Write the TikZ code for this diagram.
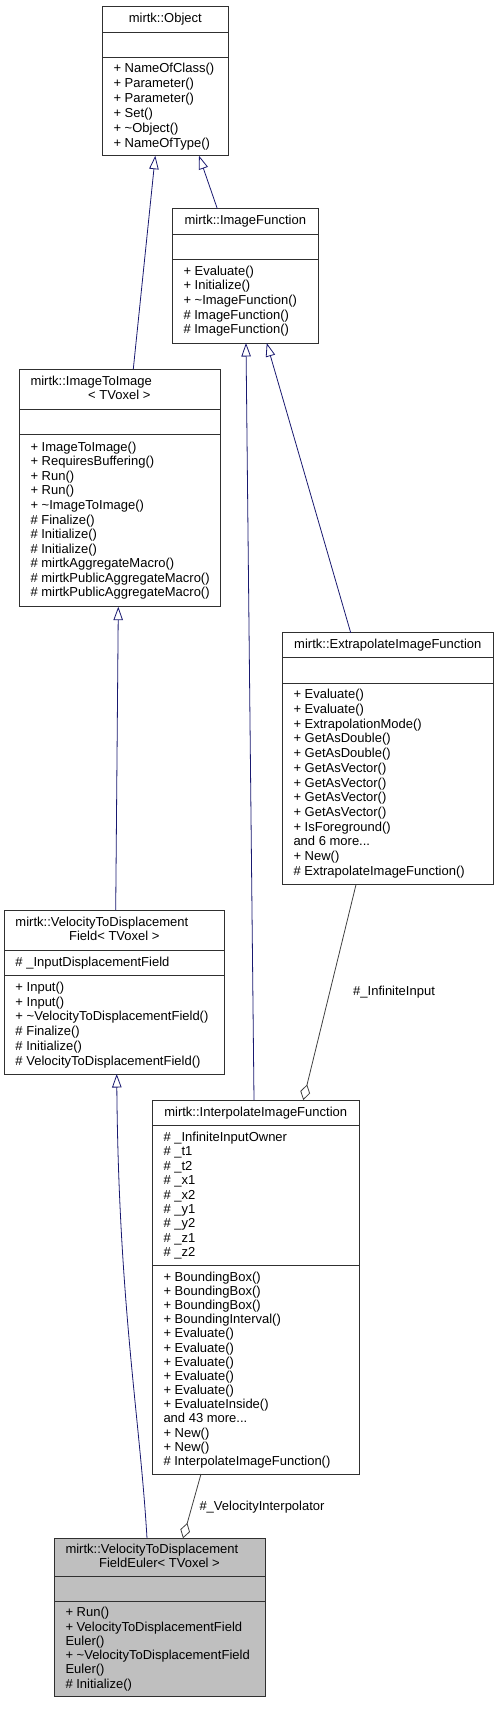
\documentclass[tikz,border=0pt]{standalone}
\usepackage{fontspec}
\setmainfont{Liberation Sans}
\usepackage{tikz}
\usetikzlibrary{arrows.meta}
\definecolor{edgeblue}{RGB}{25,25,112}
\definecolor{edgegray}{RGB}{64,64,64}
\definecolor{boxline}{RGB}{48,48,48}
\definecolor{boxgray}{RGB}{191,191,191}

\begin{document}
\begin{tikzpicture}[x=1pt,y=-1pt]
      \tikzset{cls/.style={draw=boxline,line width=0.9pt,fill=white,anchor=north west,inner sep=0,outer sep=0},
        sep/.style={draw=boxline,line width=0.9pt},
        txt/.style={anchor=base west,inner sep=0,align=left,font=\fontsize{13}{#1}\selectfont},
        txt/.default=14.6,
        ttl/.style={anchor=base,inner sep=0,font=\fontsize{13}{14.6}\selectfont},
        inh/.style={draw=edgeblue,line width=0.8pt,-{Triangle[open,length=13.5pt,width=9.5pt]}},
        agg/.style={draw=edgegray,line width=0.8pt,-{Diamond[open,length=16pt,width=10pt]}}}
      \useasboundingbox (0,0) rectangle (497,1720);
      % boxes
      \node[cls,minimum width=125.3pt,minimum height=149.4pt] (obj) at (102.7,6.3) {};
      \node[cls,minimum width=145.3pt,minimum height=134.3pt] (imf) at (172.7,208.7) {};
      \node[cls,minimum width=201.7pt,minimum height=237.7pt] (iti) at (19,369) {};
      \node[cls,minimum width=211pt,minimum height=252pt] (epf) at (282.3,632.7) {};
      \node[cls,minimum width=220.4pt,minimum height=164pt] (vtd) at (4.3,910) {};
      \node[cls,minimum width=206.7pt,minimum height=374pt] (ipf) at (152.3,1100) {};
      \node[cls,fill=boxgray,minimum width=211.7pt,minimum height=158.4pt] (eul) at (54,1538.3) {};
      % compartment lines
      \foreach \b/\y in {obj/32,obj/57.3,imf/234,imf/259.3,iti/409.3,iti/434.7,epf/657.7,epf/683,vtd/950,vtd/975.3,ipf/1125,ipf/1265,eul/1576.7,eul/1601.3}{\draw[sep] (\b.west |- 0,\y) -- (\b.east |- 0,\y);}
      % texts (multi-line blocks sit on their last baseline)
      \node[ttl] (objT) at (165.3,22.8) {mirtk::Object};
      \node[txt=14.88] (objM) at (113.3,147.2) {+ NameOfClass()\\+ Parameter()\\+ Parameter()\\+ Set()\\+ \textasciitilde Object()\\+ NameOfType()};
      \node[ttl] (imfT) at (245.3,224.8) {mirtk::ImageFunction};
      \node[txt=14.65] (imfM) at (183.3,333.8) {+ Evaluate()\\+ Initialize()\\+ \textasciitilde ImageFunction()\\\# ImageFunction()\\\# ImageFunction()};
      \node[txt] (itiT) at (30.3,385.2) {mirtk::ImageToImage};
      \node[ttl] (itiT2) at (119.3,399.5) {< TVoxel >};
      \node[txt=14.56] (itiM) at (30.3,596.8) {+ ImageToImage()\\+ RequiresBuffering()\\+ Run()\\+ Run()\\+ \textasciitilde ImageToImage()\\\# Finalize()\\\# Initialize()\\\# Initialize()\\\# mirtkAggregateMacro()\\\# mirtkPublicAggregateMacro()\\\# mirtkPublicAggregateMacro()};
      \node[ttl] (epfT) at (387.8,648.8) {mirtk::ExtrapolateImageFunction};
      \node[txt=14.7] (epfM) at (293.3,875.2) {+ Evaluate()\\+ Evaluate()\\+ ExtrapolationMode()\\+ GetAsDouble()\\+ GetAsDouble()\\+ GetAsVector()\\+ GetAsVector()\\+ GetAsVector()\\+ GetAsVector()\\+ IsForeground()\\and 6 more...\\+ New()\\\# ExtrapolateImageFunction()};
      \node[txt] (vtdT) at (15.3,926.2) {mirtk::VelocityToDisplacement};
      \node[ttl] (vtdT2) at (114.3,940.5) {Field< TVoxel >};
      \node[txt] (vtdA) at (15.3,966.2) {\# \_InputDisplacementField};
      \node[txt=14.8] (vtdM) at (15.3,1065.2) {+ Input()\\+ Input()\\+ \textasciitilde VelocityToDisplacementField()\\\# Finalize()\\\# Initialize()\\\# VelocityToDisplacementField()};
      \node[ttl] (ipfT) at (255.7,1116.2) {mirtk::InterpolateImageFunction};
      \node[txt=14.45] (ipfA) at (163.3,1256.8) {\# \_InfiniteInputOwner\\\# \_t1\\\# \_t2\\\# \_x1\\\# \_x2\\\# \_y1\\\# \_y2\\\# \_z1\\\# \_z2};
      \node[txt=14.18] (ipfM) at (163.3,1465.5) {+ BoundingBox()\\+ BoundingBox()\\+ BoundingBox()\\+ BoundingInterval()\\+ Evaluate()\\+ Evaluate()\\+ Evaluate()\\+ Evaluate()\\+ Evaluate()\\+ EvaluateInside()\\and 43 more...\\+ New()\\+ New()\\\# InterpolateImageFunction()};
      \node[txt] (eulT) at (65.3,1553.8) {mirtk::VelocityToDisplacement};
      \node[ttl] (eulT2) at (159.5,1567.8) {FieldEuler< TVoxel >};
      \node[txt=14.28] (eulM) at (65.3,1688.2) {+ Run()\\+ VelocityToDisplacementField\\Euler()\\+ \textasciitilde VelocityToDisplacementField\\Euler()\\\# Initialize()};
      % edge labels
      \node[txt] (lblInf) at (353,995.2) {\#\_InfiniteInput};
      \node[txt] (lblVel) at (199.3,1510.2) {\#\_VelocityInterpolator};
      % inheritance
      \draw[inh] ([xshift=114.3pt]iti.north west) -- ([xshift=52.6pt]obj.south west);
      \draw[inh] ([xshift=44.6pt]imf.north west) -- ([xshift=96.3pt]obj.south west);
      \draw[inh] ([xshift=101.7pt]ipf.north west) -- ([xshift=73.3pt]imf.south west);
      \draw[inh] ([xshift=68.4pt]epf.north west) -- ([xshift=94pt]imf.south west);
      \draw[inh] ([xshift=111.4pt]vtd.north west) -- ([xshift=99.3pt]iti.south west);
      \draw[inh] ([xshift=93pt]eul.north west) .. controls +(-7,-120) and +(2,230) .. ([xshift=112.4pt]vtd.south west);
      % aggregation
      \draw[agg] ([xshift=73.7pt]epf.south west) -- ([xshift=151pt]ipf.north west);
      \draw[agg] ([xshift=48.7pt]ipf.south west) -- ([xshift=129pt]eul.north west);
    \end{tikzpicture}
\end{document}
